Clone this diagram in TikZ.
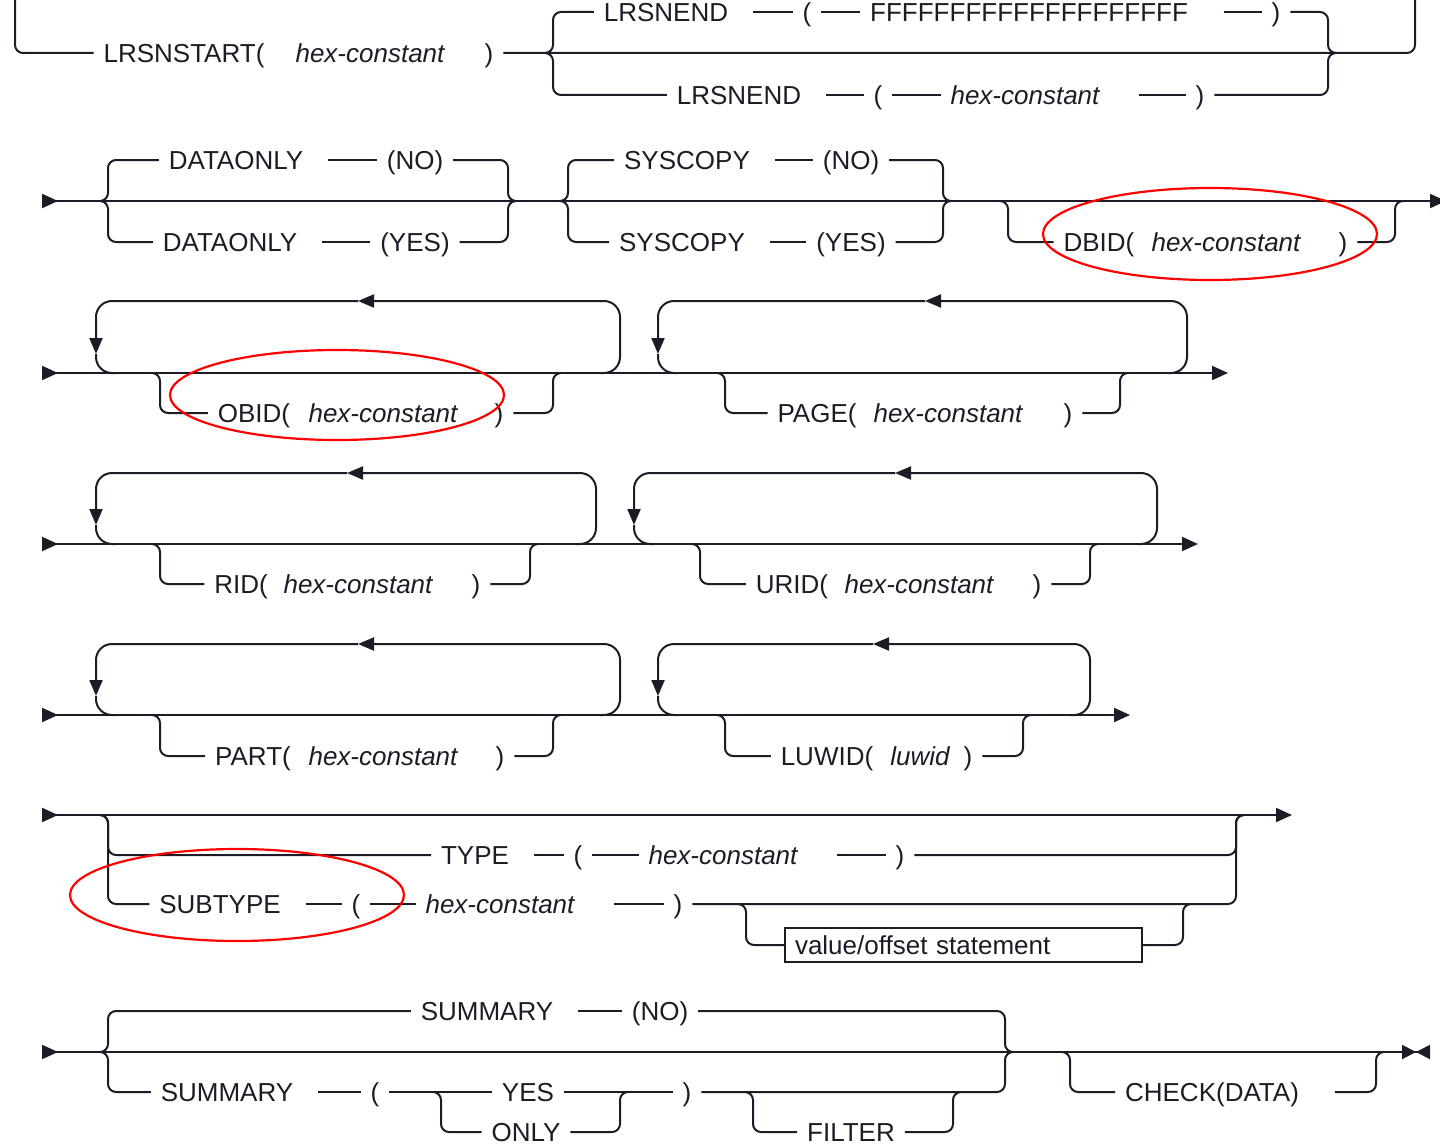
\documentclass[tikz,border=0pt]{standalone}
\usepackage{fontspec}
\setmainfont{Liberation Sans}
\usetikzlibrary{arrows.meta}
\definecolor{ink}{RGB}{28,28,38}
\begin{document}
\begin{tikzpicture}[x=0.5pt,y=-0.5pt,
    word/.style={text=ink,font=\fontsize{13pt}{15pt}\selectfont,inner sep=0pt,outer xsep=5pt,text height=9.3pt,text depth=0pt},
    hex/.style={font=\fontsize{13pt}{15pt}\selectfont\itshape},
    valbox/.style={draw=ink,line width=0.8pt,outer sep=0pt,inner xsep=5pt,inner ysep=0pt,minimum height=17pt,text width=168.5pt,align=left},
    rail/.style={draw=ink,line width=1pt,rounded corners=4pt},
    loopback/.style={draw=ink,line width=1pt,rounded corners=8pt},
    headed/.style={-{Triangle[length=8pt,width=6.5pt]}},
    mainline/.style={rail,{Triangle[length=8pt,width=7pt,reversed]}-{Triangle[length=8pt,width=7pt]}},
    mainstop/.style={rail,{Triangle[length=8pt,width=7pt,reversed]}-{Triangle[length=7pt,width=7pt]Triangle[length=7pt,width=7pt,reversed]}},
    ring/.style={draw=red,line width=1.1pt}]
  \useasboundingbox (0,0) rectangle (1440,1145);

  % rail points
  \coordinate (top0L) at (15,-10);
  \coordinate (top0R) at (1415,-10);
  \coordinate (sp0) at (545,53);
  \coordinate (jn0) at (1336,53);
  \coordinate (st1) at (42,201);
  \coordinate (en1) at (1446,201);
  \coordinate (sp1a) at (100,201);
  \coordinate (jn1a) at (516,201);
  \coordinate (sp1b) at (560,201);
  \coordinate (jn1b) at (951,201);
  \coordinate (sp1c) at (1000,201);
  \coordinate (jn1c) at (1403,201);
  \coordinate (st2) at (42,373);
  \coordinate (en2) at (1228,373);
  \coordinate (obSp) at (152,373);
  \coordinate (obJn) at (561,373);
  \coordinate (pgSp) at (717,373);
  \coordinate (pgJn) at (1128,373);
  \coordinate (st3) at (42,544);
  \coordinate (en3) at (1198,544);
  \coordinate (ridSp) at (152,544);
  \coordinate (ridJn) at (538,544);
  \coordinate (uridSp) at (692,544);
  \coordinate (uridJn) at (1098,544);
  \coordinate (st4) at (42,715);
  \coordinate (en4) at (1130,715);
  \coordinate (partSp) at (152,715);
  \coordinate (partJn) at (561,715);
  \coordinate (luwSp) at (717,715);
  \coordinate (luwJn) at (1031,715);
  \coordinate (st5) at (42,815);
  \coordinate (en5) at (1292,815);
  \coordinate (sp5) at (100,815);
  \coordinate (jn5) at (1244,815);
  \coordinate (valSp) at (738,904);
  \coordinate (valJn) at (1191,904);
  \coordinate (st6) at (42,1052);
  \coordinate (en6) at (1430,1052);
  \coordinate (sp6) at (100,1052);
  \coordinate (jn6) at (1013,1052);
  \coordinate (onlySp) at (433,1092);
  \coordinate (onlyJn) at (628,1092);
  \coordinate (filtSp) at (745,1092);
  \coordinate (filtJn) at (961,1092);
  \coordinate (chkSp) at (1062,1052);
  \coordinate (chkJn) at (1384,1052);

  % repeat loops: R leaves main line, T top arrow, D down arrow, L back on main line
  \coordinate (lp2aR) at (600,373);  \coordinate (lp2aT) at (358,301);
  \coordinate (lp2aD) at (96,354);   \coordinate (lp2aL) at (116,373);
  \coordinate (lp2bR) at (1167,373); \coordinate (lp2bT) at (925,301);
  \coordinate (lp2bD) at (658,354);  \coordinate (lp2bL) at (678,373);
  \coordinate (lp3aR) at (576,544);  \coordinate (lp3aT) at (347,473);
  \coordinate (lp3aD) at (96,525);   \coordinate (lp3aL) at (116,544);
  \coordinate (lp3bR) at (1137,544); \coordinate (lp3bT) at (895,473);
  \coordinate (lp3bD) at (634,525);  \coordinate (lp3bL) at (654,544);
  \coordinate (lp4aR) at (600,715);  \coordinate (lp4aT) at (358,644);
  \coordinate (lp4aD) at (96,696);   \coordinate (lp4aL) at (116,715);
  \coordinate (lp4bR) at (1070,715); \coordinate (lp4bT) at (873,644);
  \coordinate (lp4bD) at (658,696);  \coordinate (lp4bL) at (678,715);

  \begin{scope}[every node/.style={word}]
    \node (lrsStart) at (184,53) {LRSNSTART(};
    \node[hex] (lrsHex) at (370,53) {hex-constant};
    \node (lrsClose) at (489,53) {)};
    \node (endA) at (666,12) {LRSNEND};
    \node (endAOpen) at (807,12) {(};
    \node (endAFfff) at (1029,12) {FFFFFFFFFFFFFFFFFFFF};
    \node (endAClose) at (1276,12) {)};
    \node (endB) at (739,95) {LRSNEND};
    \node (endBOpen) at (878,95) {(};
    \node[hex] (endBHex) at (1025,95) {hex-constant};
    \node (endBClose) at (1200,95) {)};

    \node (dataNo) at (236,160) {DATAONLY};
    \node (dataNoVal) at (415,160) {(NO)};
    \node (dataYes) at (230,242) {DATAONLY};
    \node (dataYesVal) at (415,242) {(YES)};
    \node (sysNo) at (687,160) {SYSCOPY};
    \node (sysNoVal) at (851,160) {(NO)};
    \node (sysYes) at (682,242) {SYSCOPY};
    \node (sysYesVal) at (851,242) {(YES)};
    \node (dbid) at (1099,242) {DBID(};
    \node[hex] (dbidHex) at (1226,242) {hex-constant};
    \node (dbidClose) at (1343,242) {)};

    \node (obid) at (254,413) {OBID(};
    \node[hex] (obidHex) at (383,413) {hex-constant};
    \node (obidClose) at (499,413) {)};
    \node (page) at (817,413) {PAGE(};
    \node[hex] (pageHex) at (948,413) {hex-constant};
    \node (pageClose) at (1068,413) {)};

    \node (rid) at (241,584) {RID(};
    \node[hex] (ridHex) at (358,584) {hex-constant};
    \node (ridClose) at (476,584) {)};
    \node (urid) at (792,584) {URID(};
    \node[hex] (uridHex) at (919,584) {hex-constant};
    \node (uridClose) at (1037,584) {)};

    \node (part) at (253,756) {PART(};
    \node[hex] (partHex) at (383,756) {hex-constant};
    \node (partClose) at (500,756) {)};
    \node (luwid) at (827,756) {LUWID(};
    \node[hex] (luwidVar) at (920,756) {luwid};
    \node (luwidClose) at (968,756) {)};

    \node (type) at (475,855) {TYPE};
    \node (typeOpen) at (578,855) {(};
    \node[hex] (typeHex) at (723,855) {hex-constant};
    \node (typeClose) at (900,855) {)};
    \node (sub) at (220,904) {SUBTYPE};
    \node (subOpen) at (356,904) {(};
    \node[hex] (subHex) at (500,904) {hex-constant};
    \node (subClose) at (678,904) {)};
    \node[valbox,anchor=west] (valOff) at (785,945) {value/offset statement};

    \node (sumNo) at (487,1011) {SUMMARY};
    \node (sumNoVal) at (660,1011) {(NO)};
    \node (sumYes) at (227,1092) {SUMMARY};
    \node (sumOpen) at (375,1092) {(};
    \node (yes6) at (528,1092) {YES};
    \node (sumClose) at (687,1092) {)};
    \node (only6) at (526,1132) {ONLY};
    \node (filter) at (851,1132) {FILTER};
    \node (check) at (1212,1092) {CHECK(DATA)};
  \end{scope}

  % short dashes between words
  \begin{scope}[every edge/.style={rail}]
    \path ([xshift=7.5pt]endA.east) edge (endAOpen.west);
    \path (endAOpen.east) edge (endAFfff.west);
    \path ([xshift=13pt]endAFfff.east) edge (endAClose.west);
    \path ([xshift=7.5pt]endB.east) edge (endBOpen.west);
    \path (endBOpen.east) edge (endBHex.west);
    \path ([xshift=15pt]endBHex.east) edge (endBClose.west);
    \path ([xshift=7.5pt]dataNo.east) edge (dataNoVal.west);
    \path ([xshift=7.5pt]dataYes.east) edge (dataYesVal.west);
    \path ([xshift=7.5pt]sysNo.east) edge (sysNoVal.west);
    \path ([xshift=7.5pt]sysYes.east) edge (sysYesVal.west);
    \path ([xshift=7.5pt]type.east) edge (typeOpen.west);
    \path (typeOpen.east) edge (typeHex.west);
    \path ([xshift=15pt]typeHex.east) edge (typeClose.west);
    \path ([xshift=7.5pt]sub.east) edge (subOpen.west);
    \path (subOpen.east) edge (subHex.west);
    \path ([xshift=15pt]subHex.east) edge (subClose.west);
    \path ([xshift=7.5pt]sumNo.east) edge (sumNoVal.west);
    \path ([xshift=7.5pt]sumYes.east) edge (sumOpen.west);
    \path (sumOpen.east) edge (yes6.west);
    \path (yes6.east) edge (sumClose.west);
  \end{scope}

  % main lines
  \draw[rail] (top0L) |- (lrsStart.west);
  \draw[rail] (lrsClose.east) -- (jn0) -| (top0R);
  \draw[mainline] (st1) -- (en1);
  \draw[mainline] (st2) -- (en2);
  \draw[mainline] (st3) -- (en3);
  \draw[mainline] (st4) -- (en4);
  \draw[mainline] (st5) -- (en5);
  \draw[mainstop] (st6) -- (en6);

  % branches
  \draw[rail] (sp0) -- ++(8,0) |- (endA.west);
  \draw[rail] (endAClose.east) -| ([xshift=-4pt]jn0) -- (jn0);
  \draw[rail] (sp0) -- ++(8,0) |- (endB.west);
  \draw[rail] (endBClose.east) -| ([xshift=-4pt]jn0) -- (jn0);

  \draw[rail] (sp1a) -- ++(8,0) |- (dataNo.west);
  \draw[rail] (sp1a) -- ++(8,0) |- (dataYes.west);
  \draw[rail] (dataNoVal.east) -| ([xshift=-4pt]jn1a) -- (jn1a);
  \draw[rail] (dataYesVal.east) -| ([xshift=-4pt]jn1a) -- (jn1a);
  \draw[rail] (sp1b) -- ++(8,0) |- (sysNo.west);
  \draw[rail] (sp1b) -- ++(8,0) |- (sysYes.west);
  \draw[rail] (sysNoVal.east) -| ([xshift=-4pt]jn1b) -- (jn1b);
  \draw[rail] (sysYesVal.east) -| ([xshift=-4pt]jn1b) -- (jn1b);
  \draw[rail] (sp1c) -- ++(8,0) |- (dbid.west);
  \draw[rail] (dbidClose.east) -| ([xshift=-4pt]jn1c) -- (jn1c);

  \draw[rail] (obSp) -- ++(8,0) |- (obid.west);
  \draw[rail] (obidClose.east) -| ([xshift=-4pt]obJn) -- (obJn);
  \draw[rail] (pgSp) -- ++(8,0) |- (page.west);
  \draw[rail] (pageClose.east) -| ([xshift=-4pt]pgJn) -- (pgJn);
  \draw[rail] (ridSp) -- ++(8,0) |- (rid.west);
  \draw[rail] (ridClose.east) -| ([xshift=-4pt]ridJn) -- (ridJn);
  \draw[rail] (uridSp) -- ++(8,0) |- (urid.west);
  \draw[rail] (uridClose.east) -| ([xshift=-4pt]uridJn) -- (uridJn);
  \draw[rail] (partSp) -- ++(8,0) |- (part.west);
  \draw[rail] (partClose.east) -| ([xshift=-4pt]partJn) -- (partJn);
  \draw[rail] (luwSp) -- ++(8,0) |- (luwid.west);
  \draw[rail] (luwidClose.east) -| ([xshift=-4pt]luwJn) -- (luwJn);

  \draw[rail] (sp5) -- ++(8,0) |- (type.west);
  \draw[rail] (sp5) -- ++(8,0) |- (sub.west);
  \draw[rail] (typeClose.east) -| ([xshift=-4pt]jn5) -- (jn5);
  \draw[rail] (subClose.east) -| ([xshift=-4pt]jn5) -- (jn5);
  \draw[rail] (valSp) -- ++(8,0) |- (valOff.west);
  \draw[rail] (valOff.east) -| ([xshift=-4pt]valJn) -- (valJn);

  \draw[rail] (sp6) -- ++(8,0) |- (sumNo.west);
  \draw[rail] (sp6) -- ++(8,0) |- (sumYes.west);
  \draw[rail] (sumNoVal.east) -| ([xshift=-4pt]jn6) -- (jn6);
  \draw[rail] (sumClose.east) -| ([xshift=-4pt]jn6) -- (jn6);
  \draw[rail] (onlySp) -- ++(8,0) |- (only6.west);
  \draw[rail] (only6.east) -| ([xshift=-4pt]onlyJn) -- (onlyJn);
  \draw[rail] (filtSp) -- ++(8,0) |- (filter.west);
  \draw[rail] (filter.east) -| ([xshift=-4pt]filtJn) -- (filtJn);
  \draw[rail] (chkSp) -- ++(8,0) |- (check.west);
  \draw[rail] ([xshift=13pt]check.east) -| ([xshift=-4pt]chkJn) -- (chkJn);

  % repeat loops
  \draw[loopback,headed] (lp2aR) -- ++(20,0) |- (lp2aT);
  \draw[loopback,headed] (lp2aT) -| (lp2aD);
  \draw[loopback] (lp2aD) |- (lp2aL);
  \draw[loopback,headed] (lp2bR) -- ++(20,0) |- (lp2bT);
  \draw[loopback,headed] (lp2bT) -| (lp2bD);
  \draw[loopback] (lp2bD) |- (lp2bL);
  \draw[loopback,headed] (lp3aR) -- ++(20,0) |- (lp3aT);
  \draw[loopback,headed] (lp3aT) -| (lp3aD);
  \draw[loopback] (lp3aD) |- (lp3aL);
  \draw[loopback,headed] (lp3bR) -- ++(20,0) |- (lp3bT);
  \draw[loopback,headed] (lp3bT) -| (lp3bD);
  \draw[loopback] (lp3bD) |- (lp3bL);
  \draw[loopback,headed] (lp4aR) -- ++(20,0) |- (lp4aT);
  \draw[loopback,headed] (lp4aT) -| (lp4aD);
  \draw[loopback] (lp4aD) |- (lp4aL);
  \draw[loopback,headed] (lp4bR) -- ++(20,0) |- (lp4bT);
  \draw[loopback,headed] (lp4bT) -| (lp4bD);
  \draw[loopback] (lp4bD) |- (lp4bL);

  % red rings
  \coordinate (dbidRing) at (1210,234);
  \coordinate (obidRing) at (337,395);
  \coordinate (subRing) at (237,895);
  \draw[ring] (dbidRing) ellipse [x radius=83.5pt,y radius=23pt];
  \draw[ring] (obidRing) ellipse [x radius=83.5pt,y radius=22.5pt];
  \draw[ring] (subRing) ellipse [x radius=83.5pt,y radius=23pt];
\end{tikzpicture}
\end{document}
